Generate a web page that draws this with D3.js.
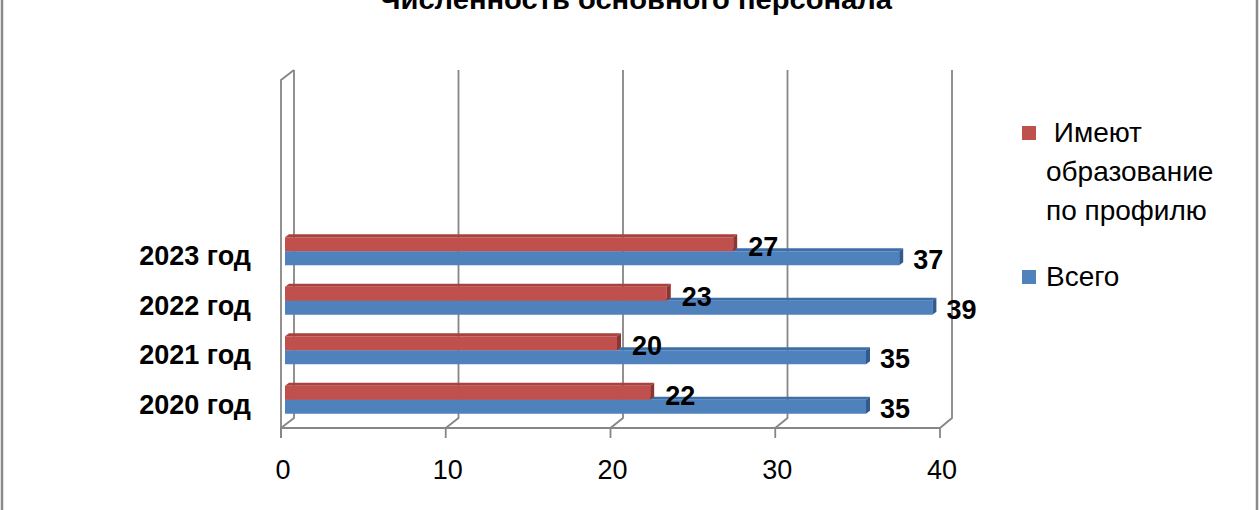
<!DOCTYPE html>
<html>
<head>
<meta charset="utf-8">
<script src="https://cdn.jsdelivr.net/npm/d3@7"></script>
<style>
  html, body { margin: 0; padding: 0; background: #fff; }
  svg { display: block; }
  text { font-family: "Liberation Sans", Arial, sans-serif; white-space: pre; }
</style>
</head>
<body>
<svg id="chart" width="1260" height="510"></svg>
<script>
// ---- data ----
const title = "Численность основного персонала";
const categories = ["2020 год", "2021 год", "2022 год", "2023 год"];
const seriesNames = [" Имеют образование по профилю", "Всего"];
const legendLines = [[" Имеют", "образование", "по профилю"], ["Всего"]];
const profileValues = [22, 20, 23, 27];
const totalValues = [35, 35, 39, 37];
const xTicks = [0, 10, 20, 30, 40];

const colors = {
  red:   { front: "#C0504D", top: "#A8423F", side: "#8E3532" },
  blue:  { front: "#4F81BD", top: "#3E6EA8", side: "#2F5B8F" }
};

const svg = d3.select("#chart");

// frame
svg.append("rect")
  .attr("x", 2).attr("y", -20).attr("width", 1255).attr("height", 560)
  .attr("fill", "none").attr("stroke", "#8a8a8a").attr("stroke-width", 2.5);

// title (partially clipped at top as in reference)
svg.append("text")
  .attr("x", 636).attr("y", 9)
  .attr("text-anchor", "middle")
  .attr("font-size", 27).attr("font-weight", "bold")
  .attr("textLength", 512).attr("lengthAdjust", "spacingAndGlyphs")
  .text(title);

// scales: back wall, bar plane, front floor edge
const xBack  = d3.scaleLinear().domain([0, 40]).range([294, 952]);
const xBar   = d3.scaleLinear().domain([0, 40]).range([285, 949]);
const xFront = d3.scaleLinear().domain([0, 40]).range([281, 940]);
const y = d3.scaleBand().domain(categories.slice().reverse()).range([226.5, 424.5]).paddingInner(0);

const wallTop = 70, backFloor = 418, frontFloor = 428, tickLen = 10;
const gridColor = "#868686";

const grid = svg.append("g").attr("fill", "none").attr("stroke", gridColor).attr("stroke-width", 1.8);
// gridlines on back wall bending onto floor
xTicks.forEach(t => {
  grid.append("path").attr("d",
    `M${xBack(t)},${wallTop} L${xBack(t)},${backFloor} L${xFront(t)},${frontFloor} L${xFront(t)},${frontFloor + tickLen}`);
});
// left wall outline
grid.append("path").attr("d",
  `M${xFront(0)},${frontFloor + tickLen} L${xFront(0)},${wallTop + 10} L${xBack(0)},${wallTop}`);
// floor front edge
grid.append("path").attr("d", `M${xFront(0)},${frontFloor} L${xFront(40)},${frontFloor}`);

// bars
const depthX = 4, depthY = 3, barH = 14;
function bar3d(g, x1, yTop, h, c) {
  const x0 = xBar(0);
  g.append("path").attr("fill", c.top)
    .attr("d", `M${x0},${yTop} L${x0 + depthX},${yTop - depthY} L${x1 + depthX},${yTop - depthY} L${x1},${yTop} Z`);
  g.append("rect").attr("x", x0).attr("y", yTop).attr("width", x1 - x0).attr("height", h).attr("fill", c.front);
  g.append("path").attr("fill", c.side)
    .attr("d", `M${x1},${yTop} L${x1 + depthX},${yTop - depthY} L${x1 + depthX},${yTop + h - depthY} L${x1},${yTop + h} Z`);
}

const bars = svg.append("g");
categories.forEach((cat, i) => {
  const c = y(cat) + y.bandwidth() / 2;
  bar3d(bars, xBar(totalValues[i]), c, barH, colors.blue);
  bar3d(bars, xBar(profileValues[i]), c - barH, barH, colors.red);
});

// data labels
const labels = svg.append("g").attr("font-size", 27).attr("font-weight", "bold").attr("fill", "#000");
categories.forEach((cat, i) => {
  const c = y(cat) + y.bandwidth() / 2;
  labels.append("text").attr("x", xBar(profileValues[i]) + 15).attr("y", c - 4)
    .attr("dominant-baseline", "central").text(profileValues[i]);
  labels.append("text").attr("x", xBar(totalValues[i]) + 14).attr("y", c + 9)
    .attr("dominant-baseline", "central").text(totalValues[i]);
});

// category labels
const catG = svg.append("g").attr("font-size", 27).attr("font-weight", "bold").attr("fill", "#000");
categories.forEach(cat => {
  catG.append("text").attr("x", 251).attr("y", y(cat) + y.bandwidth() / 2 + 5)
    .attr("text-anchor", "end").attr("dominant-baseline", "central").text(cat);
});

// x tick labels
const tickG = svg.append("g").attr("font-size", 27).attr("fill", "#000");
xTicks.forEach(t => {
  tickG.append("text").attr("x", xFront(t) + 2).attr("y", 470)
    .attr("text-anchor", "middle").attr("dominant-baseline", "central").text(t);
});

// legend
const legend = svg.append("g").attr("font-size", 28).attr("fill", "#000");
const legendItems = [
  { lines: legendLines[0], color: colors.red.front, y: 142 },
  { lines: legendLines[1], color: colors.blue.front, y: 286 }
];
legendItems.forEach(item => {
  legend.append("rect").attr("x", 1022).attr("y", item.y - 16).attr("width", 14).attr("height", 14)
    .attr("fill", item.color);
  item.lines.forEach((ln, j) => {
    legend.append("text").attr("x", 1046).attr("y", item.y + j * 39).text(ln);
  });
});
</script>
</body>
</html>
